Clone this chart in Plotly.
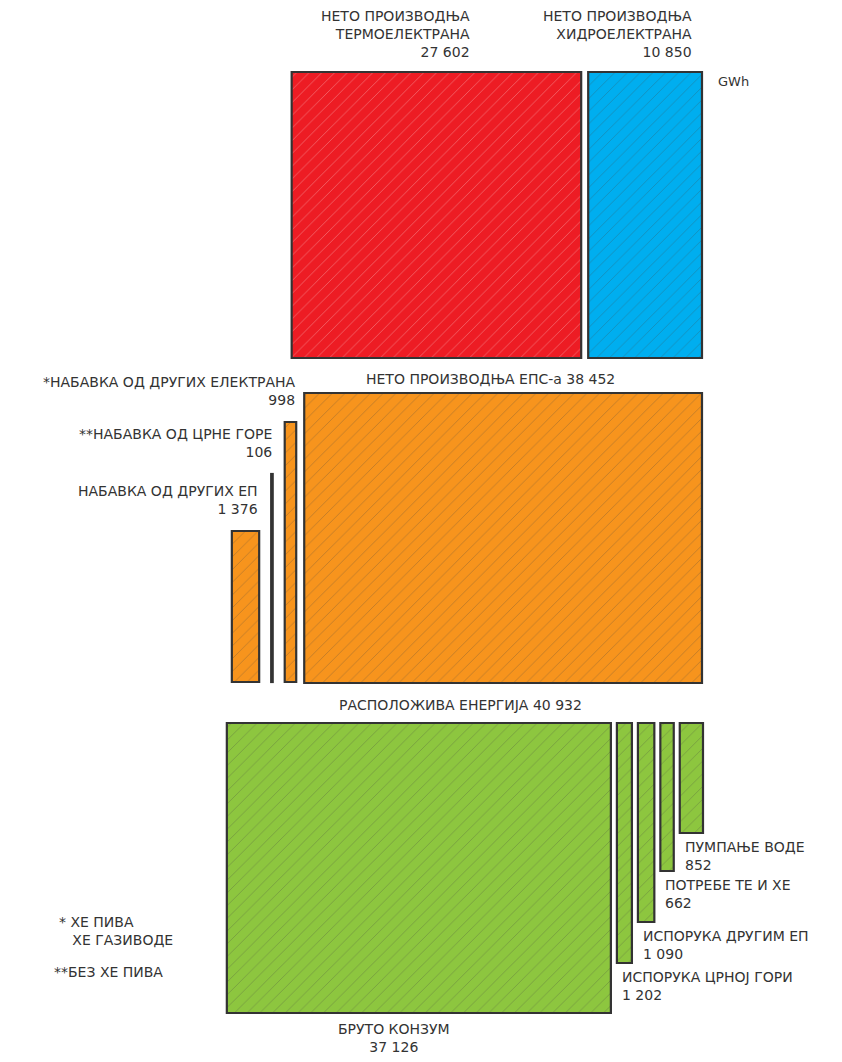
import plotly.graph_objects as go

# ---------------- data (GWh) ----------------
production_labels = ["НЕТО ПРОИЗВОДЊА<br>ТЕРМОЕЛЕКТРАНА", "НЕТО ПРОИЗВОДЊА<br>ХИДРОЕЛЕКТРАНА"]
production_values = [27602, 10850]

eps_label = "НЕТО ПРОИЗВОДЊА ЕПС-а"
eps_value = 38452

purchase_labels = ["НАБАВКА ОД ДРУГИХ ЕП", "**НАБАВКА ОД ЦРНЕ ГОРЕ", "*НАБАВКА ОД ДРУГИХ ЕЛЕКТРАНА"]
purchase_values = [1376, 106, 998]

available_label = "РАСПОЛОЖИВА ЕНЕРГИЈА"
available_value = 40932

consumption_label = "БРУТО КОНЗУМ"
consumption_value = 37126

delivery_labels = ["ИСПОРУКА ЦРНОЈ ГОРИ", "ИСПОРУКА ДРУГИМ ЕП", "ПОТРЕБЕ ТЕ И ХЕ", "ПУМПАЊЕ ВОДЕ"]
delivery_values = [1202, 1090, 662, 852]

unit_label = "GWh"
footnote_lines = ["* ХЕ ПИВА", "ХЕ ГАЗИВОДЕ", "**БЕЗ ХЕ ПИВА"]

# ---------------- layout / style ----------------
W, H = 842, 1062
AREA = 3.0          # px^2 of rectangle per GWh (area encoding)
RIGHT = 702         # common right edge of the three rows
TOP_ROW = (72, 286)       # (top, height)
MID_ROW = (393, 290)
BOT_ROW = (723, 290)
PURCHASE_H = [151, 208, 260]       # heights of the thin bars (width follows from area)
DELIVERY_H = [240, 199, 148, 110]
RED, BLUE, ORANGE, GREEN = "#ED1C24", "#00AEEF", "#F7941D", "#8DC63F"
INK = "#333333"
FONT = "DejaVu Sans"
FS = 14


def fmt(v):
    return f"{v:,}".replace(",", " ")


def width_of(value, height):
    return value * AREA / height


rects = []  # (x_left, width, top, height, color)

# top row: thermal + hydro, right aligned
t_top, t_h = TOP_ROW
w_th = width_of(production_values[0], t_h)
w_hy = width_of(production_values[1], t_h)
hy_left = RIGHT - w_hy
th_left = hy_left - 7 - w_th
rects.append((th_left, w_th, t_top, t_h, RED))
rects.append((hy_left, w_hy, t_top, t_h, BLUE))

# middle row: EPS net production + purchases on its left
m_top, m_h = MID_ROW
w_eps = width_of(eps_value, m_h)
eps_left = RIGHT - w_eps
rects.append((eps_left, w_eps, m_top, m_h, ORANGE))
m_bottom = m_top + m_h - 1
purchase_geo = []
right_edge = eps_left - 8
for v, h in zip(reversed(purchase_values), reversed(PURCHASE_H)):
    w = width_of(v, h)
    left = right_edge - w
    purchase_geo.append((left, w, m_bottom - h, h))
    right_edge = left - 12
purchase_geo = list(reversed(purchase_geo))
for g in purchase_geo:
    rects.append((*g, ORANGE))

# bottom row: consumption + deliveries on its right
b_top, b_h = BOT_ROW
delivery_geo = []
right_edge = RIGHT + 1
for v, h in zip(reversed(delivery_values), reversed(DELIVERY_H)):
    w = width_of(v, h)
    left = right_edge - w
    delivery_geo.append((left, w, b_top, h))
    right_edge = left - 6
delivery_geo = list(reversed(delivery_geo))
w_con = width_of(consumption_value, b_h)
con_left = right_edge - w_con
rects.append((con_left, w_con, b_top, b_h, GREEN))
for g in delivery_geo:
    rects.append((*g, GREEN))

fig = go.Figure()
fig.add_trace(go.Bar(
    x=[r[0] + r[1] / 2 for r in rects],
    width=[r[1] for r in rects],
    base=[r[2] for r in rects],
    y=[r[3] for r in rects],
    marker=dict(
        color=[r[4] for r in rects],
        line=dict(color=INK, width=2.2),
        pattern=dict(shape="/", fgcolor="white", fgopacity=0.3, size=9,
                     solidity=0.1, fillmode="overlay"),
    ),
    hoverinfo="skip",
    showlegend=False,
))

ann = []


def text(x, y, s, xa="left", ya="top", size=FS):
    ann.append(dict(x=x, y=y, xref="x", yref="y", text=s, showarrow=False,
                    xanchor=xa, yanchor=ya, align=xa if xa != "center" else "center",
                    font=dict(family=FONT, size=size, color=INK)))


# top labels
text(472, 62, production_labels[0] + "<br>" + fmt(production_values[0]), "right", "bottom")
text(694, 62, production_labels[1] + "<br>" + fmt(production_values[1]), "right", "bottom")
text(716, 81, unit_label, "left", "middle", 13)

# middle labels
text(490, 379, f"{eps_label} {fmt(eps_value)}", "center", "middle")
for (lab, v), (left, w, top, h) in zip(zip(purchase_labels, purchase_values), purchase_geo):
    text(left + w + 1, top - 12, lab + "<br>" + fmt(v), "right", "bottom")

text(460, 705, f"{available_label} {fmt(available_value)}", "center", "middle")

# bottom labels
for (lab, v), (left, w, top, h) in zip(zip(delivery_labels, delivery_values), delivery_geo):
    text(left + 3, top + h + 4, lab + "<br>" + fmt(v), "left", "top")
text(con_left + w_con / 2 - 25, 1019, consumption_label + "<br>" + fmt(consumption_value), "center", "top")

# footnotes
text(57, 912, footnote_lines[0] + "<br>" + "\u00a0\u00a0\u00a0" + footnote_lines[1], "left", "top")
text(52, 972, footnote_lines[2], "left", "middle")

fig.update_layout(
    width=W, height=H,
    margin=dict(l=0, r=0, t=0, b=0),
    paper_bgcolor="white", plot_bgcolor="white",
    barmode="overlay",
    xaxis=dict(range=[0, W], visible=False, fixedrange=True),
    yaxis=dict(range=[H, 0], visible=False, fixedrange=True),
    annotations=ann,
    showlegend=False,
)

fig.write_html("out.html", config={"displayModeBar": False},
               post_script="document.body.style.margin='0';document.body.style.overflow='hidden';")
